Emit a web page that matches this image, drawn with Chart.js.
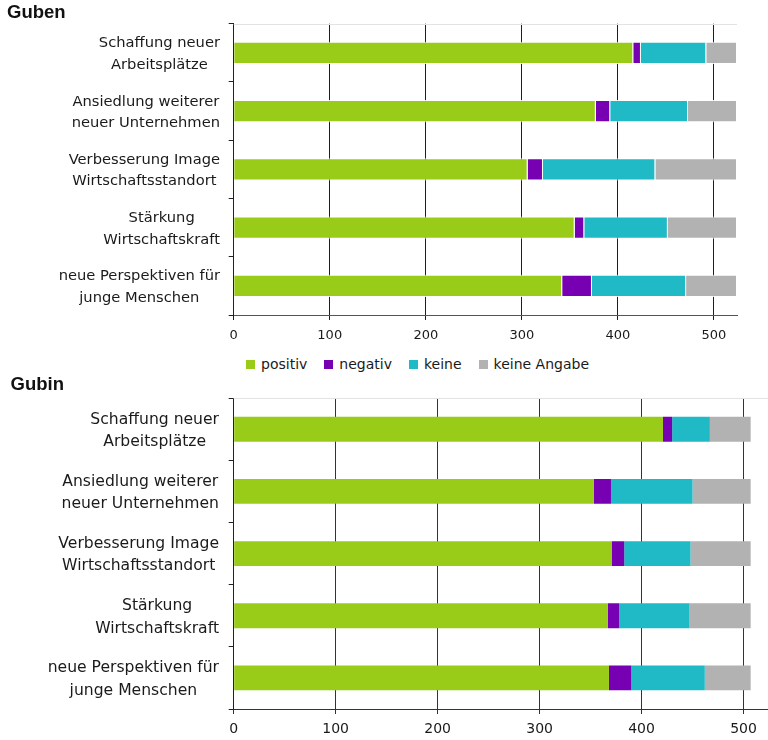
<!DOCTYPE html>
<html>
<head>
<meta charset="utf-8">
<script src="https://cdn.jsdelivr.net/npm/chart.js@4.4.0/dist/chart.umd.min.js"></script>
<style>
  body { margin: 0; background: #fff; width: 768px; height: 740px; overflow: hidden; position: relative; font-family: "DejaVu Sans", sans-serif; }
  #gubenChart { position: absolute; left: 0; top: 0; }
  #gubinChart { position: absolute; left: 0; top: 370px; }
  #legend { position: absolute; left: 246px; top: 355px; display: flex; font-size: 14px; color: #1a1a1a; line-height: 18px; }
  #legend span.item { display: flex; align-items: center; margin-right: 17px; }
  #legend span.box { display: inline-block; width: 9px; height: 9px; margin-right: 6px; }
</style>
</head>
<body>
<canvas id="gubenChart" width="768" height="350"></canvas>
<div id="legend"></div>
<canvas id="gubinChart" width="768" height="370"></canvas>
<script>
// categories (multi-line labels)
const categories = [
  ['Schaffung neuer', 'Arbeitsplätze'],
  ['Ansiedlung weiterer', 'neuer Unternehmen'],
  ['Verbesserung Image', 'Wirtschaftsstandort'],
  ['Stärkung', 'Wirtschaftskraft'],
  ['neue Perspektiven für', 'junge Menschen']
];
const seriesNames = ['positiv', 'negativ', 'keine', 'keine Angabe'];
const seriesColors = ['#99cc18', '#7700b3', '#1fbac6', '#b2b2b2'];

// Guben
const gubenPositiv = [416, 377, 306, 355, 342];
const gubenNegativ = [8, 15, 16, 10, 31];
const gubenKeine = [68, 81, 117, 87, 98];
const gubenKeineAngabe = [32, 51, 85, 72, 53];

// Gubin
const gubinPositiv = [421, 353, 371, 367, 368];
const gubinNegativ = [9, 17, 12, 11, 22];
const gubinKeine = [37, 80, 65, 69, 72];
const gubinKeineAngabe = [40, 57, 59, 60, 45];

const xTicks = [0, 100, 200, 300, 400, 500];
const xMax = 524;

Chart.defaults.font.family = '"DejaVu Sans", sans-serif';
Chart.defaults.color = '#1a1a1a';

// draws the centred multi-line category labels and the light top border
const categoryLabels = {
  id: 'categoryLabels',
  beforeDatasetsDraw(chart) {
    const a = chart.chartArea;
    const ctx = chart.ctx;
    ctx.save();
    ctx.strokeStyle = '#e2e2e2';
    ctx.lineWidth = 1;
    ctx.beginPath();
    ctx.moveTo(a.left, Math.round(a.top) + 0.5);
    ctx.lineTo(a.right, Math.round(a.top) + 0.5);
    ctx.stroke();
    ctx.restore();
  },
  afterDraw(chart, args, opts) {
    const ctx = chart.ctx;
    const yScale = chart.scales.y;
    ctx.save();
    ctx.font = opts.size + 'px "DejaVu Sans", sans-serif';
    ctx.fillStyle = '#1a1a1a';
    ctx.textAlign = 'center';
    ctx.textBaseline = 'middle';
    chart.data.labels.forEach((lines, i) => {
      const y = yScale.getPixelForTick(i) + opts.offset;
      const w = Math.max(...lines.map(l => ctx.measureText(l).width));
      const cx = opts.right - w / 2;
      lines.forEach((line, j) => {
        ctx.fillText(line, cx, y + (j - (lines.length - 1) / 2) * opts.lineGap);
      });
    });
    ctx.restore();
  }
};

function makeDatasets(values, border) {
  return values.map((data, i) => ({
    label: seriesNames[i],
    data: data,
    backgroundColor: seriesColors[i],
    borderColor: border ? 'rgba(255,255,255,0.85)' : seriesColors[i],
    borderWidth: border ? 1 : 0
  }));
}

function makeOptions(cfg) {
  return {
    responsive: false,
    animation: false,
    indexAxis: 'y',
    layout: { padding: { left: cfg.padLeft, right: cfg.padRight, top: 0, bottom: 0 } },
    datasets: { bar: { barPercentage: cfg.barPct, categoryPercentage: 1 } },
    plugins: {
      legend: { display: false },
      tooltip: { enabled: false },
      title: {
        display: true,
        text: cfg.title,
        align: 'start',
        color: '#111',
        font: { family: '"Liberation Sans", Arial, sans-serif', size: 18.5, weight: 'bold' },
        padding: { top: cfg.titleTop, bottom: cfg.titleBottom }
      },
      categoryLabels: { size: cfg.labelSize, right: cfg.labelRight, lineGap: cfg.lineGap, offset: 1.5 }
    },
    scales: {
      x: {
        stacked: true,
        min: 0,
        max: xMax,
        afterBuildTicks: s => { s.ticks = xTicks.map(v => ({ value: v })); },
        ticks: { padding: cfg.tickPad, color: '#1a1a1a', font: { size: cfg.tickSize } },
        grid: { color: cfg.gridColor, tickLength: 5 },
        border: { color: cfg.axisColor },
        afterFit: s => { s.height = cfg.xHeight; }
      },
      y: {
        stacked: true,
        ticks: { display: false },
        grid: { drawOnChartArea: false, tickLength: 5, color: '#222' },
        border: { color: '#222' },
        afterFit: s => { s.width = cfg.yWidth; }
      }
    }
  };
}

new Chart(document.getElementById('gubenChart'), {
  type: 'bar',
  data: {
    labels: categories,
    datasets: makeDatasets([gubenPositiv, gubenNegativ, gubenKeine, gubenKeineAngabe], true)
  },
  options: makeOptions({
    title: 'Guben', padLeft: 7, padRight: 31, yWidth: 226.7, xHeight: 35,
    titleTop: 2, titleBottom: -0.5, barPct: 0.38, labelSize: 14.7, labelRight: 220,
    lineGap: 21.5, tickPad: 8, tickSize: 13, gridColor: '#1e1e1e', axisColor: '#555'
  }),
  plugins: [categoryLabels]
});

new Chart(document.getElementById('gubinChart'), {
  type: 'bar',
  data: {
    labels: categories,
    datasets: makeDatasets([gubinPositiv, gubinNegativ, gubinKeine, gubinKeineAngabe], false)
  },
  options: makeOptions({
    title: 'Gubin', padLeft: 10.5, padRight: 0, yWidth: 223.2, xHeight: 31,
    titleTop: 3.5, titleBottom: 2.5, barPct: 0.4, labelSize: 15.6, labelRight: 219,
    lineGap: 22.4, tickPad: 7, tickSize: 14, gridColor: '#333', axisColor: '#333'
  }),
  plugins: [categoryLabels]
});

// HTML legend built from the series arrays
const legend = document.getElementById('legend');
seriesNames.forEach((name, i) => {
  const item = document.createElement('span');
  item.className = 'item';
  const box = document.createElement('span');
  box.className = 'box';
  box.style.background = seriesColors[i];
  item.appendChild(box);
  item.appendChild(document.createTextNode(name));
  legend.appendChild(item);
});
</script>
</body>
</html>
